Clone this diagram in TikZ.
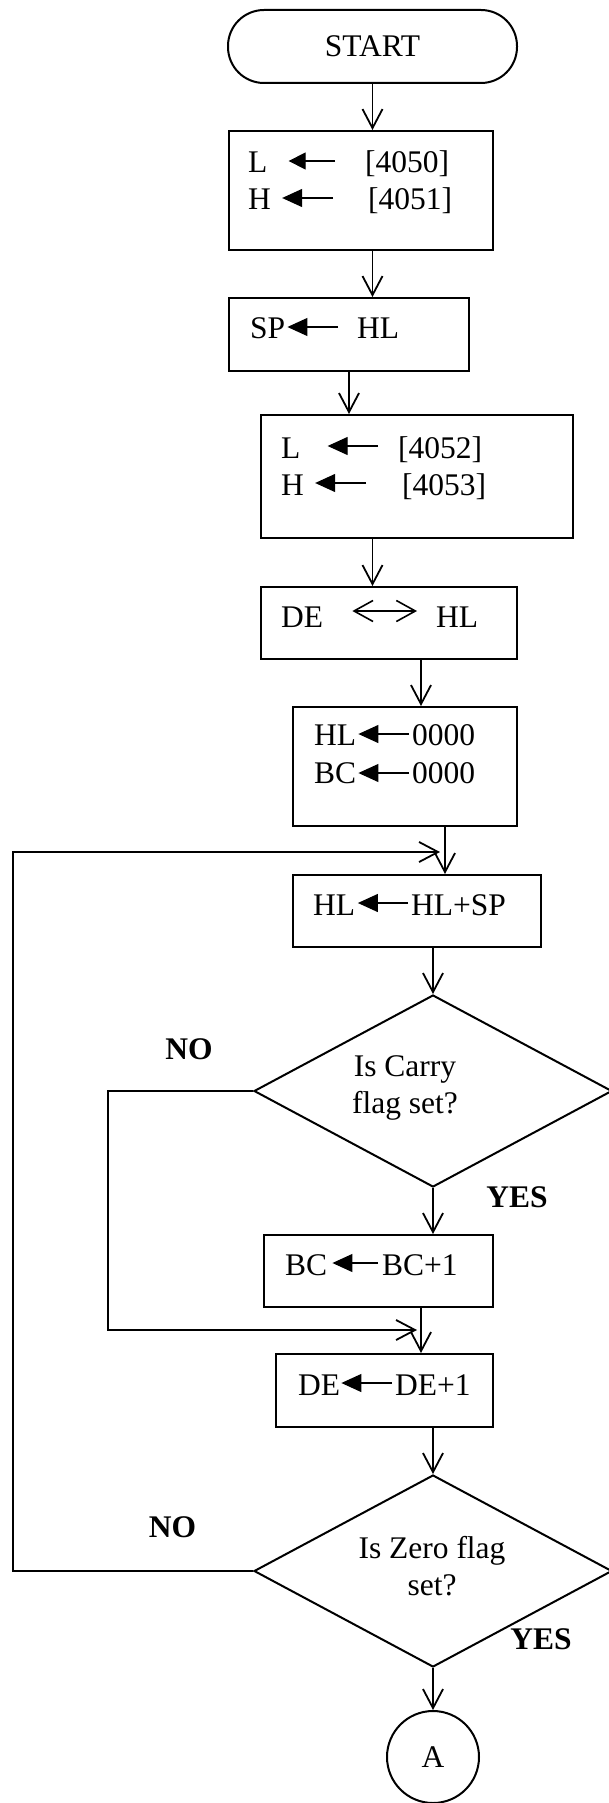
\documentclass[tikz,border=0pt]{standalone}
\usepackage{fontspec}
\setmainfont{Liberation Serif}
\usepackage{tikz}
\usetikzlibrary{positioning,arrows.meta,shapes.geometric}
\tikzset{
    process/.style={rectangle, draw, line width=2pt, inner sep=0pt},
    terminal/.style={rectangle, draw, line width=2pt, rounded corners=36pt, minimum width=289pt, minimum height=73pt},
    decision/.style={diamond, draw, line width=2pt, inner sep=0pt, minimum width=358pt, minimum height=192pt},
    connector/.style={circle, draw, line width=2pt, minimum size=92pt, inner sep=0pt},
    txt/.style={inner sep=0pt, anchor=base west},
    answer/.style={font=\bfseries},
    flow/.style={-{Straight Barb[length=19pt,width=20pt]}, line width=1.8pt},
    assign/.style={-{Triangle[length=20pt,width=18pt]}, line width=1.2pt},
    swap/.style={{Straight Barb[length=19pt,width=21pt]}-{Straight Barb[length=19pt,width=21pt]}, line width=1.6pt}
}

\begin{document}
\fontsize{31.5}{37}\selectfont
\begin{tikzpicture}[x=1pt, y=-1pt]
    \useasboundingbox (0,0) rectangle (608,1803);

    % Start and set-up boxes
    \node[terminal] (start) at (372.5,46.5) {START};
    \node[process, minimum width=264pt, minimum height=119pt] (load1) at (361,190.5) {};
    \node[process, minimum width=240pt, minimum height=73pt] (sphl) at (349,334.5) {};
    \node[process, minimum width=312pt, minimum height=123pt] (load2) at (417,476.5) {};
    \node[process, minimum width=256pt, minimum height=72pt] (xchg) at (389,623) {};
    \node[process, minimum width=224pt, minimum height=119pt] (clear) at (405,766.5) {};

    % Loop body
    \node[process, minimum width=248pt, minimum height=72pt] (addsp) at (417,911) {};
    \node[decision] (carry) at (433,1091) {};
    \node[process, minimum width=229pt, minimum height=72pt] (incbc) at (378.5,1271) {};
    \node[process, minimum width=217pt, minimum height=73pt] (incde) at (384.5,1390.5) {};
    \node[decision] (zero) at (433,1571) {};
    \node[connector] (conA) at (433,1757) {A};

    % Decision texts
    \node[align=center, inner sep=0pt] (carrytxt) at (405,1088) {Is Carry\\flag set?};
    \node[align=center, inner sep=0pt] (zerotxt) at (432,1566) {Is Zero flag\\set?};

    % L, H <- [4050], [4051]
    \node[txt] (l1) at (248,173) {L};
    \node[txt] (a1) at (365,173) {[4050]};
    \node[txt] (h1) at (248,210) {H};
    \node[txt] (a2) at (368,210) {[4051]};
    \draw[assign, -{Triangle[length=17pt,width=17pt]}] ([xshift=-30pt,yshift=12pt]a1.base west) -- ([xshift=21pt,yshift=12pt]l1.base east);
    \draw[assign] ([xshift=-35pt,yshift=12pt]a2.base west) -- ([xshift=11pt,yshift=12pt]h1.base east);

    % SP <- HL
    \node[txt] (sp1) at (250,338) {SP};
    \node[txt] (hl1) at (357,338) {HL};
    \draw[assign] ([xshift=-19pt,yshift=11pt]hl1.base west) -- ([xshift=2pt,yshift=11pt]sp1.base east);

    % L, H <- [4052], [4053]
    \node[txt] (l2) at (281,458) {L};
    \node[txt] (a3) at (398,458) {[4052]};
    \node[txt] (h2) at (281,495) {H};
    \node[txt] (a4) at (402,495) {[4053]};
    \draw[assign] ([xshift=-20pt,yshift=12pt]a3.base west) -- ([xshift=27pt,yshift=12pt]l2.base east);
    \draw[assign] ([xshift=-36pt,yshift=12pt]a4.base west) -- ([xshift=11pt,yshift=12pt]h2.base east);

    % DE <-> HL
    \node[txt] (de1) at (281,627) {DE};
    \node[txt] (hl2) at (436,627) {HL};
    \draw[swap] ([xshift=29pt,yshift=16pt]de1.base east) -- ([xshift=-19pt,yshift=16pt]hl2.base west);

    % HL, BC <- 0000
    \node[txt] (hl3) at (314,745) {HL};
    \node[txt] (z1) at (412,745) {0000};
    \node[txt] (bc1) at (314,783) {BC};
    \node[txt] (z2) at (412,783) {0000};
    \draw[assign] ([xshift=-3pt,yshift=11pt]z1.base west) -- ([xshift=2pt,yshift=11pt]hl3.base east);
    \draw[assign] ([xshift=-3pt,yshift=10pt]z2.base west) -- ([xshift=2pt,yshift=10pt]bc1.base east);

    % HL <- HL+SP, BC <- BC+1, DE <- DE+1
    \node[txt] (hl4) at (313,915) {HL};
    \node[txt] (hlsp) at (411,915) {HL+SP};
    \draw[assign] ([xshift=-3pt,yshift=12pt]hlsp.base west) -- ([xshift=2.5pt,yshift=12pt]hl4.base east);
    \node[txt] (bc2) at (285,1275) {BC};
    \node[txt] (bcinc) at (382,1275) {BC+1};
    \draw[assign] ([xshift=-4pt,yshift=12pt]bcinc.base west) -- ([xshift=5pt,yshift=12pt]bc2.base east);
    \node[txt] (de2) at (298,1395) {DE};
    \node[txt] (deinc) at (395,1395) {DE+1};
    \draw[assign] ([xshift=-3pt,yshift=12pt]deinc.base west) -- ([xshift=1pt,yshift=12pt]de2.base east);

    % Branch labels
    \node[answer] (no1) at (189,1049) {NO};
    \node[answer] (yes1) at (517,1197) {YES};
    \node[answer] (no2) at (172.5,1527.5) {NO};
    \node[answer] (yes2) at (541,1639) {YES};

    % Flow arrows
    \draw[flow] (start.south) -- (start.south |- load1.north);
    \draw[flow] (load1.south -| start) -- (sphl.north -| start);
    \draw[flow] (sphl.south) -- (sphl.south |- load2.north);
    \draw[flow] (load2.south -| start) -- (xchg.north -| start);
    \draw[flow] ([xshift=32pt]xchg.south) -- ([xshift=16pt]clear.north);
    \draw[flow] ([xshift=40pt]clear.south) -- ([xshift=28pt]addsp.north);
    \draw[flow] (addsp.south -| carry) -- (carry.north);
    \draw[flow] (carry.south) -- (incbc.north -| carry);
    \draw[flow] ([xshift=42.5pt]incbc.south) -- ([xshift=36.5pt]incde.north);
    \draw[flow] (incde.south -| zero) -- (zero.north);
    \draw[flow] (zero.south) -- (conA.north);

    % Loop-back arrows
    \coordinate (joinbc) at (417,1330);
    \coordinate (joinadd) at (440,852);
    \draw[flow] (carry.west) -- ++(-145,0) |- (joinbc);
    \draw[flow] (zero.west) -- ++(-240,0) |- (joinadd);
\end{tikzpicture}
\end{document}
